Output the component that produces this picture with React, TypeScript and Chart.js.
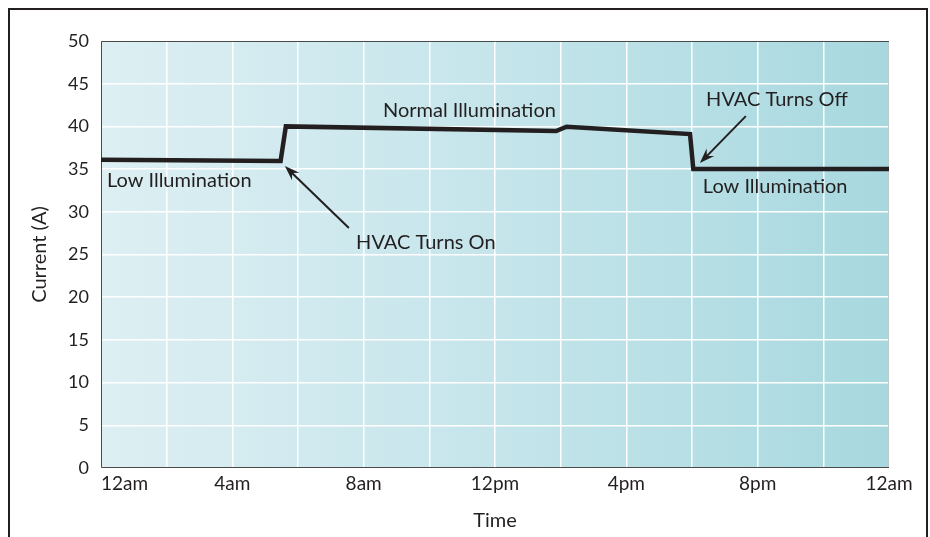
import React, { useEffect, useRef } from "react";
import { Chart, registerables } from "chart.js";

Chart.register(...registerables);

// ---- data ----
const hours = [0, 5.47, 5.63, 13.86, 14.18, 17.94, 18.04, 24];
const current = [36.1, 35.95, 40.0, 39.45, 39.97, 39.1, 35.0, 35.0];

const xTickValues = [0, 4, 8, 12, 16, 20, 24];
const xTickLabels = ["12am", "4am", "8am", "12pm", "4pm", "8pm", "12am"];

const noteTexts = ["Low Illumination", "HVAC Turns On", "Normal Illumination", "HVAC Turns Off", "Low Illumination"];
const noteHours = [0.18, 7.77, 8.59, 18.43, 18.33];
const noteValues = [33.7, 26.35, 41.9, 43.1, 32.9];

const arrowFromHours = [7.55, 19.64];
const arrowFromValues = [28.1, 41.2];
const arrowToHours = [5.6, 18.24];
const arrowToValues = [35.36, 35.7];

const FONT = "Lato, 'Open Sans', sans-serif";
const INK = "#231f20";

const decorPlugin = {
  id: "decor",
  beforeDatasetsDraw(chart: any) {
    const { ctx, chartArea: a } = chart;
    ctx.save();
    ctx.lineWidth = 1;
    ctx.strokeStyle = "#bfc9cc";
    ctx.beginPath();
    ctx.moveTo(a.right - 0.5, a.top);
    ctx.lineTo(a.right - 0.5, a.bottom);
    ctx.stroke();
    ctx.strokeStyle = "#4a4a4a";
    ctx.beginPath();
    ctx.moveTo(a.right, a.top + 0.5);
    ctx.lineTo(a.left + 0.5, a.top + 0.5);
    ctx.lineTo(a.left + 0.5, a.bottom - 0.5);
    ctx.lineTo(a.right, a.bottom - 0.5);
    ctx.stroke();
    ctx.restore();
  },
  beforeDraw(chart: any) {
    const { ctx, chartArea: a } = chart;
    ctx.save();
    const g = ctx.createLinearGradient(a.left, 0, a.right, 0);
    g.addColorStop(0, "#ddeff3");
    g.addColorStop(0.5, "#c5e5eb");
    g.addColorStop(1, "#a8d8df");
    ctx.fillStyle = g;
    ctx.fillRect(a.left, a.top, a.right - a.left, a.bottom - a.top);
    ctx.restore();
  },
  afterDraw(chart: any) {
    const { ctx } = chart;
    const xs = chart.scales.x;
    const ys = chart.scales.y;
    ctx.save();
    ctx.fillStyle = INK;
    ctx.font = `19px ${FONT}`;
    ctx.textBaseline = "middle";
    xTickValues.forEach((v, i) => {
      ctx.textAlign = i === 0 ? "left" : "center";
      ctx.fillText(xTickLabels[i], xs.getPixelForValue(v), 484);
    });
    ctx.font = `20px ${FONT}`;
    ctx.textAlign = "left";
    noteTexts.forEach((t, i) => {
      ctx.fillText(t, xs.getPixelForValue(noteHours[i]), ys.getPixelForValue(noteValues[i]));
    });
    ctx.strokeStyle = INK;
    ctx.lineWidth = 2;
    arrowFromHours.forEach((_, i) => {
      const x1 = xs.getPixelForValue(arrowFromHours[i]);
      const y1 = ys.getPixelForValue(arrowFromValues[i]);
      const x2 = xs.getPixelForValue(arrowToHours[i]);
      const y2 = ys.getPixelForValue(arrowToValues[i]);
      const ang = Math.atan2(y2 - y1, x2 - x1);
      const L = 16;
      const W = 0.34;
      ctx.beginPath();
      ctx.moveTo(x1, y1);
      ctx.lineTo(x2 - Math.cos(ang) * 6, y2 - Math.sin(ang) * 6);
      ctx.stroke();
      ctx.beginPath();
      ctx.moveTo(x2, y2);
      ctx.lineTo(x2 - L * Math.cos(ang - W), y2 - L * Math.sin(ang - W));
      ctx.lineTo(x2 - 10 * Math.cos(ang), y2 - 10 * Math.sin(ang));
      ctx.lineTo(x2 - L * Math.cos(ang + W), y2 - L * Math.sin(ang + W));
      ctx.closePath();
      ctx.fill();
    });
    ctx.restore();
  },
};

export default function App() {
  const ref = useRef<HTMLCanvasElement | null>(null);
  useEffect(() => {
    if (!ref.current) return;
    const chart = new Chart(ref.current, {
      type: "line",
      data: {
        datasets: [
          {
            data: hours.map((h, i) => ({ x: h, y: current[i] })),
            borderColor: INK,
            borderWidth: 4.5,
            pointRadius: 0,
            tension: 0,
            borderJoinStyle: "miter",
            borderCapStyle: "butt",
            fill: false,
          },
        ],
      },
      options: {
        responsive: false,
        animation: false,
        events: [],
        layout: { padding: { left: 0, top: 41, right: 41, bottom: 0 } },
        plugins: { legend: { display: false }, tooltip: { enabled: false } },
        scales: {
          x: {
            type: "linear",
            min: 0,
            max: 24,
            afterBuildTicks: (s: any) => {
              const t = [];
              for (let v = 0; v <= 24; v += 2) t.push({ value: v });
              s.ticks = t;
            },
            afterFit: (s: any) => {
              s.height = 69;
            },
            grid: { color: "#ffffff", lineWidth: 1.5, drawTicks: false },
            border: { display: false },
            ticks: { display: false },
            title: {
              display: true,
              text: "Time",
              color: INK,
              font: { family: FONT, size: 20 },
              padding: { top: 0, bottom: 4 },
            },
          },
          y: {
            min: 0,
            max: 50,
            afterFit: (s: any) => {
              s.width = 101;
            },
            grid: { color: "#ffffff", lineWidth: 1.5, drawTicks: false },
            border: { display: false },
            ticks: {
              stepSize: 5,
              padding: 12,
              color: INK,
              font: { family: FONT, size: 18 },
            },
            title: {
              display: true,
              text: "Current (A)",
              color: INK,
              font: { family: FONT, size: 20 },
              padding: { top: 28, bottom: 0 },
            },
          },
        },
      },
      plugins: [decorPlugin],
    });
    return () => chart.destroy();
  }, []);
  return (
    <div>
      <div
        style={{
          position: "fixed",
          left: 8,
          top: 8,
          width: 920,
          height: 560,
          boxSizing: "border-box",
          border: "2.5px solid #231f20",
        }}
      />
      <canvas
        ref={ref}
        width={930}
        height={537}
        style={{ position: "fixed", left: 0, top: 0, width: 930, height: 537 }}
      />
    </div>
  );
}
